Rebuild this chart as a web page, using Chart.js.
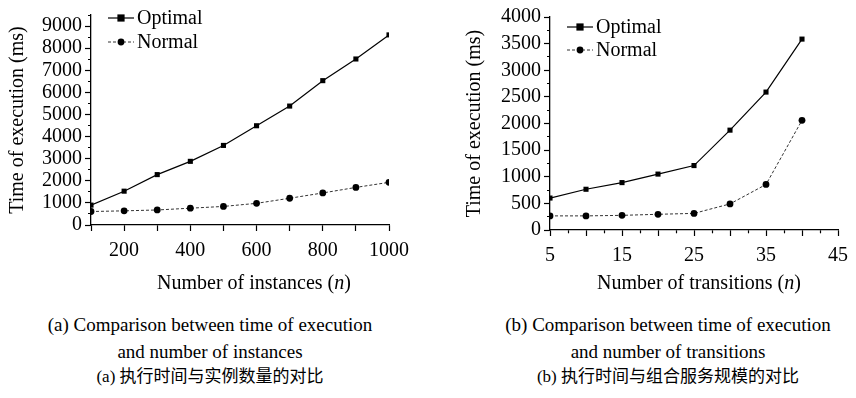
<!DOCTYPE html>
<html>
<head>
<meta charset="utf-8">
<script src="https://cdn.jsdelivr.net/npm/chart.js@4.4.1/dist/chart.umd.min.js"></script>
<style>
  body { margin: 0; background: #fff; width: 856px; height: 398px; position: relative; overflow: hidden; font-family: "Liberation Serif", serif; color: #000; }
  #wrapA { position: absolute; left: 0; top: 0; width: 430px; height: 300px; }
  #wrapB { position: absolute; left: 430px; top: 0; width: 426px; height: 300px; }
  .txt { position: absolute; transform: translateX(-50%); white-space: nowrap; font-size: 19px; line-height: 24px; }
  .zh { font-family: "Liberation Serif", "Noto Sans CJK SC", serif; font-size: 17px; }
</style>
</head>
<body>
<div id="wrapA"><canvas id="chartA" width="430" height="300"></canvas></div>
<div id="wrapB"><canvas id="chartB" width="426" height="300"></canvas></div>

<div class="txt" style="left:254px; top:270px; font-size:20px;">Number of instances (<i>n</i>)</div>
<div class="txt" style="left:699px; top:270px; font-size:20px;">Number of transitions (<i>n</i>)</div>

<div class="txt" style="left:210px; top:313px;">(a) Comparison between time of execution</div>
<div class="txt" style="left:210px; top:340px;">and number of instances</div>
<div class="txt zh" style="left:210px; top:365px;">(a) 执行时间与实例数量的对比</div>

<div class="txt" style="left:668px; top:313px;">(b) Comparison between time of execution</div>
<div class="txt" style="left:668px; top:340px;">and number of transitions</div>
<div class="txt zh" style="left:668px; top:365px;">(b) 执行时间与组合服务规模的对比</div>

<script>
// (a) number of instances
const instances = [100, 200, 300, 400, 500, 600, 700, 800, 900, 1000];
const optimalA = [900, 1530, 2280, 2880, 3600, 4490, 5380, 6530, 7510, 8600];
const normalA = [610, 640, 680, 760, 840, 980, 1210, 1450, 1700, 1930];
const xLabelsA = [200, 400, 600, 800, 1000];
const yLabelsA = [0, 1000, 2000, 3000, 4000, 5000, 6000, 7000, 8000, 9000];

// (b) number of transitions
const transitions = [5, 10, 15, 20, 25, 30, 35, 40];
const optimalB = [600, 765, 890, 1050, 1210, 1875, 2590, 3585];
const normalB = [265, 265, 275, 295, 312, 490, 855, 2060];
const xLabelsB = [5, 15, 25, 35, 45];
const yLabelsB = [0, 500, 1000, 1500, 2000, 2500, 3000, 3500, 4000];

Chart.defaults.font.family = '"Liberation Serif", serif';
Chart.defaults.font.size = 20;
Chart.defaults.color = '#000';

function pts(xs, ys) {
    return xs.map((x, i) => ({x: x, y: ys[i]}));
}

// legend drawn as line + marker, like the original figure
const lineLegend = {
    id: 'lineLegend',
    afterDatasetsDraw(chart, args, opts) {
        const ctx = chart.ctx;
        chart.data.datasets.forEach((ds, i) => {
            const y = opts.y + i * opts.gap;
            const mx = opts.x + opts.len / 2;
            ctx.save();
            ctx.strokeStyle = ds.borderColor;
            ctx.lineWidth = ds.borderWidth;
            ctx.setLineDash(ds.borderDash || []);
            ctx.beginPath();
            ctx.moveTo(opts.x, y);
            ctx.lineTo(opts.x + opts.len, y);
            ctx.stroke();
            ctx.setLineDash([]);
            ctx.fillStyle = '#000';
            const r = ds.pointRadius;
            if (ds.pointStyle === 'rect') {
                ctx.fillRect(mx - r, y - r, 2 * r, 2 * r);
            } else {
                ctx.beginPath();
                ctx.arc(mx, y, r, 0, Math.PI * 2);
                ctx.fill();
            }
            ctx.font = '20px "Liberation Serif"';
            ctx.textBaseline = 'middle';
            ctx.fillText(ds.label, opts.x + opts.len + 3, y + 1);
            ctx.restore();
        });
    }
};

function makeChart(id, xs, opt, norm, cfg) {
    new Chart(document.getElementById(id), {
        type: 'line',
        data: {
            datasets: [{
                label: 'Optimal',
                data: pts(xs, opt),
                borderColor: '#000',
                borderWidth: 1.2,
                pointStyle: 'rect',
                pointRadius: 3.6,
                pointBackgroundColor: '#000',
                pointBorderWidth: 0
            }, {
                label: 'Normal',
                data: pts(xs, norm),
                borderColor: '#333',
                borderWidth: 1,
                borderDash: [3, 2],
                pointStyle: 'circle',
                pointRadius: 3.4,
                pointBackgroundColor: '#000',
                pointBorderWidth: 0
            }]
        },
        options: {
            responsive: false,
            animation: false,
            layout: {padding: {top: cfg.top, right: cfg.right, left: 0, bottom: 0}},
            plugins: {
                legend: {display: false},
                tooltip: {enabled: false},
                lineLegend: cfg.legend
            },
            scales: {
                x: {
                    type: 'linear',
                    min: cfg.xMin, max: cfg.xMax,
                    afterFit: s => { s.height = cfg.xHeight; },
                    afterBuildTicks: s => {
                        s.ticks = [];
                        for (let v = cfg.xMin; v <= cfg.xMax + 1e-6; v += cfg.xStep) s.ticks.push({value: v});
                    },
                    ticks: {
                        autoSkip: false, maxRotation: 0, padding: cfg.xPad,
                        callback: v => cfg.xLabels.includes(v) ? v : ''
                    },
                    grid: {
                        drawOnChartArea: false, tickLength: 6, tickColor: '#000', tickWidth: 1.2,
                        tickBorderDash: c => cfg.xMajor(c.tick.value) ? [] : [3, 100]
                    },
                    border: {color: '#000', width: 1.3}
                },
                y: {
                    min: 0, max: cfg.yMax,
                    afterFit: s => { s.width = cfg.yWidth; },
                    afterBuildTicks: s => {
                        s.ticks = [];
                        for (let v = 0; v <= cfg.yMax; v += cfg.yStep) s.ticks.push({value: v});
                    },
                    ticks: {
                        autoSkip: false, padding: 3,
                        callback: v => cfg.yLabels.includes(v) ? v : ''
                    },
                    title: {display: true, text: 'Time of execution (ms)', font: {size: 20}, padding: {top: cfg.titlePad, bottom: 0}},
                    grid: {
                        drawOnChartArea: false, tickLength: 6, tickColor: '#000', tickWidth: 1.2,
                        tickBorderDash: c => cfg.yLabels.includes(c.tick.value) ? [] : [0, 3, 3, 100]
                    },
                    border: {color: '#000', width: 1.3}
                }
            }
        },
        plugins: [lineLegend]
    });
}

makeChart('chartA', instances, optimalA, normalA, {
    top: 5, right: 41, xHeight: 75, yWidth: 91, titlePad: 6, xPad: 8,
    xMin: 100, xMax: 1000, xStep: 100, xLabels: xLabelsA, xMajor: v => true,
    yMax: 9500, yStep: 500, yLabels: yLabelsA,
    legend: {x: 108, y: 18, gap: 24, len: 26}
});

makeChart('chartB', transitions, optimalB, normalB, {
    top: 17, right: 11, xHeight: 70, yWidth: 120, titlePad: 33, xPad: 8,
    xMin: 5, xMax: 45, xStep: 2.5, xLabels: xLabelsB, xMajor: v => v % 5 === 0,
    yMax: 4000, yStep: 250, yLabels: yLabelsB,
    legend: {x: 137, y: 27, gap: 23, len: 26}
});
</script>
</body>
</html>
